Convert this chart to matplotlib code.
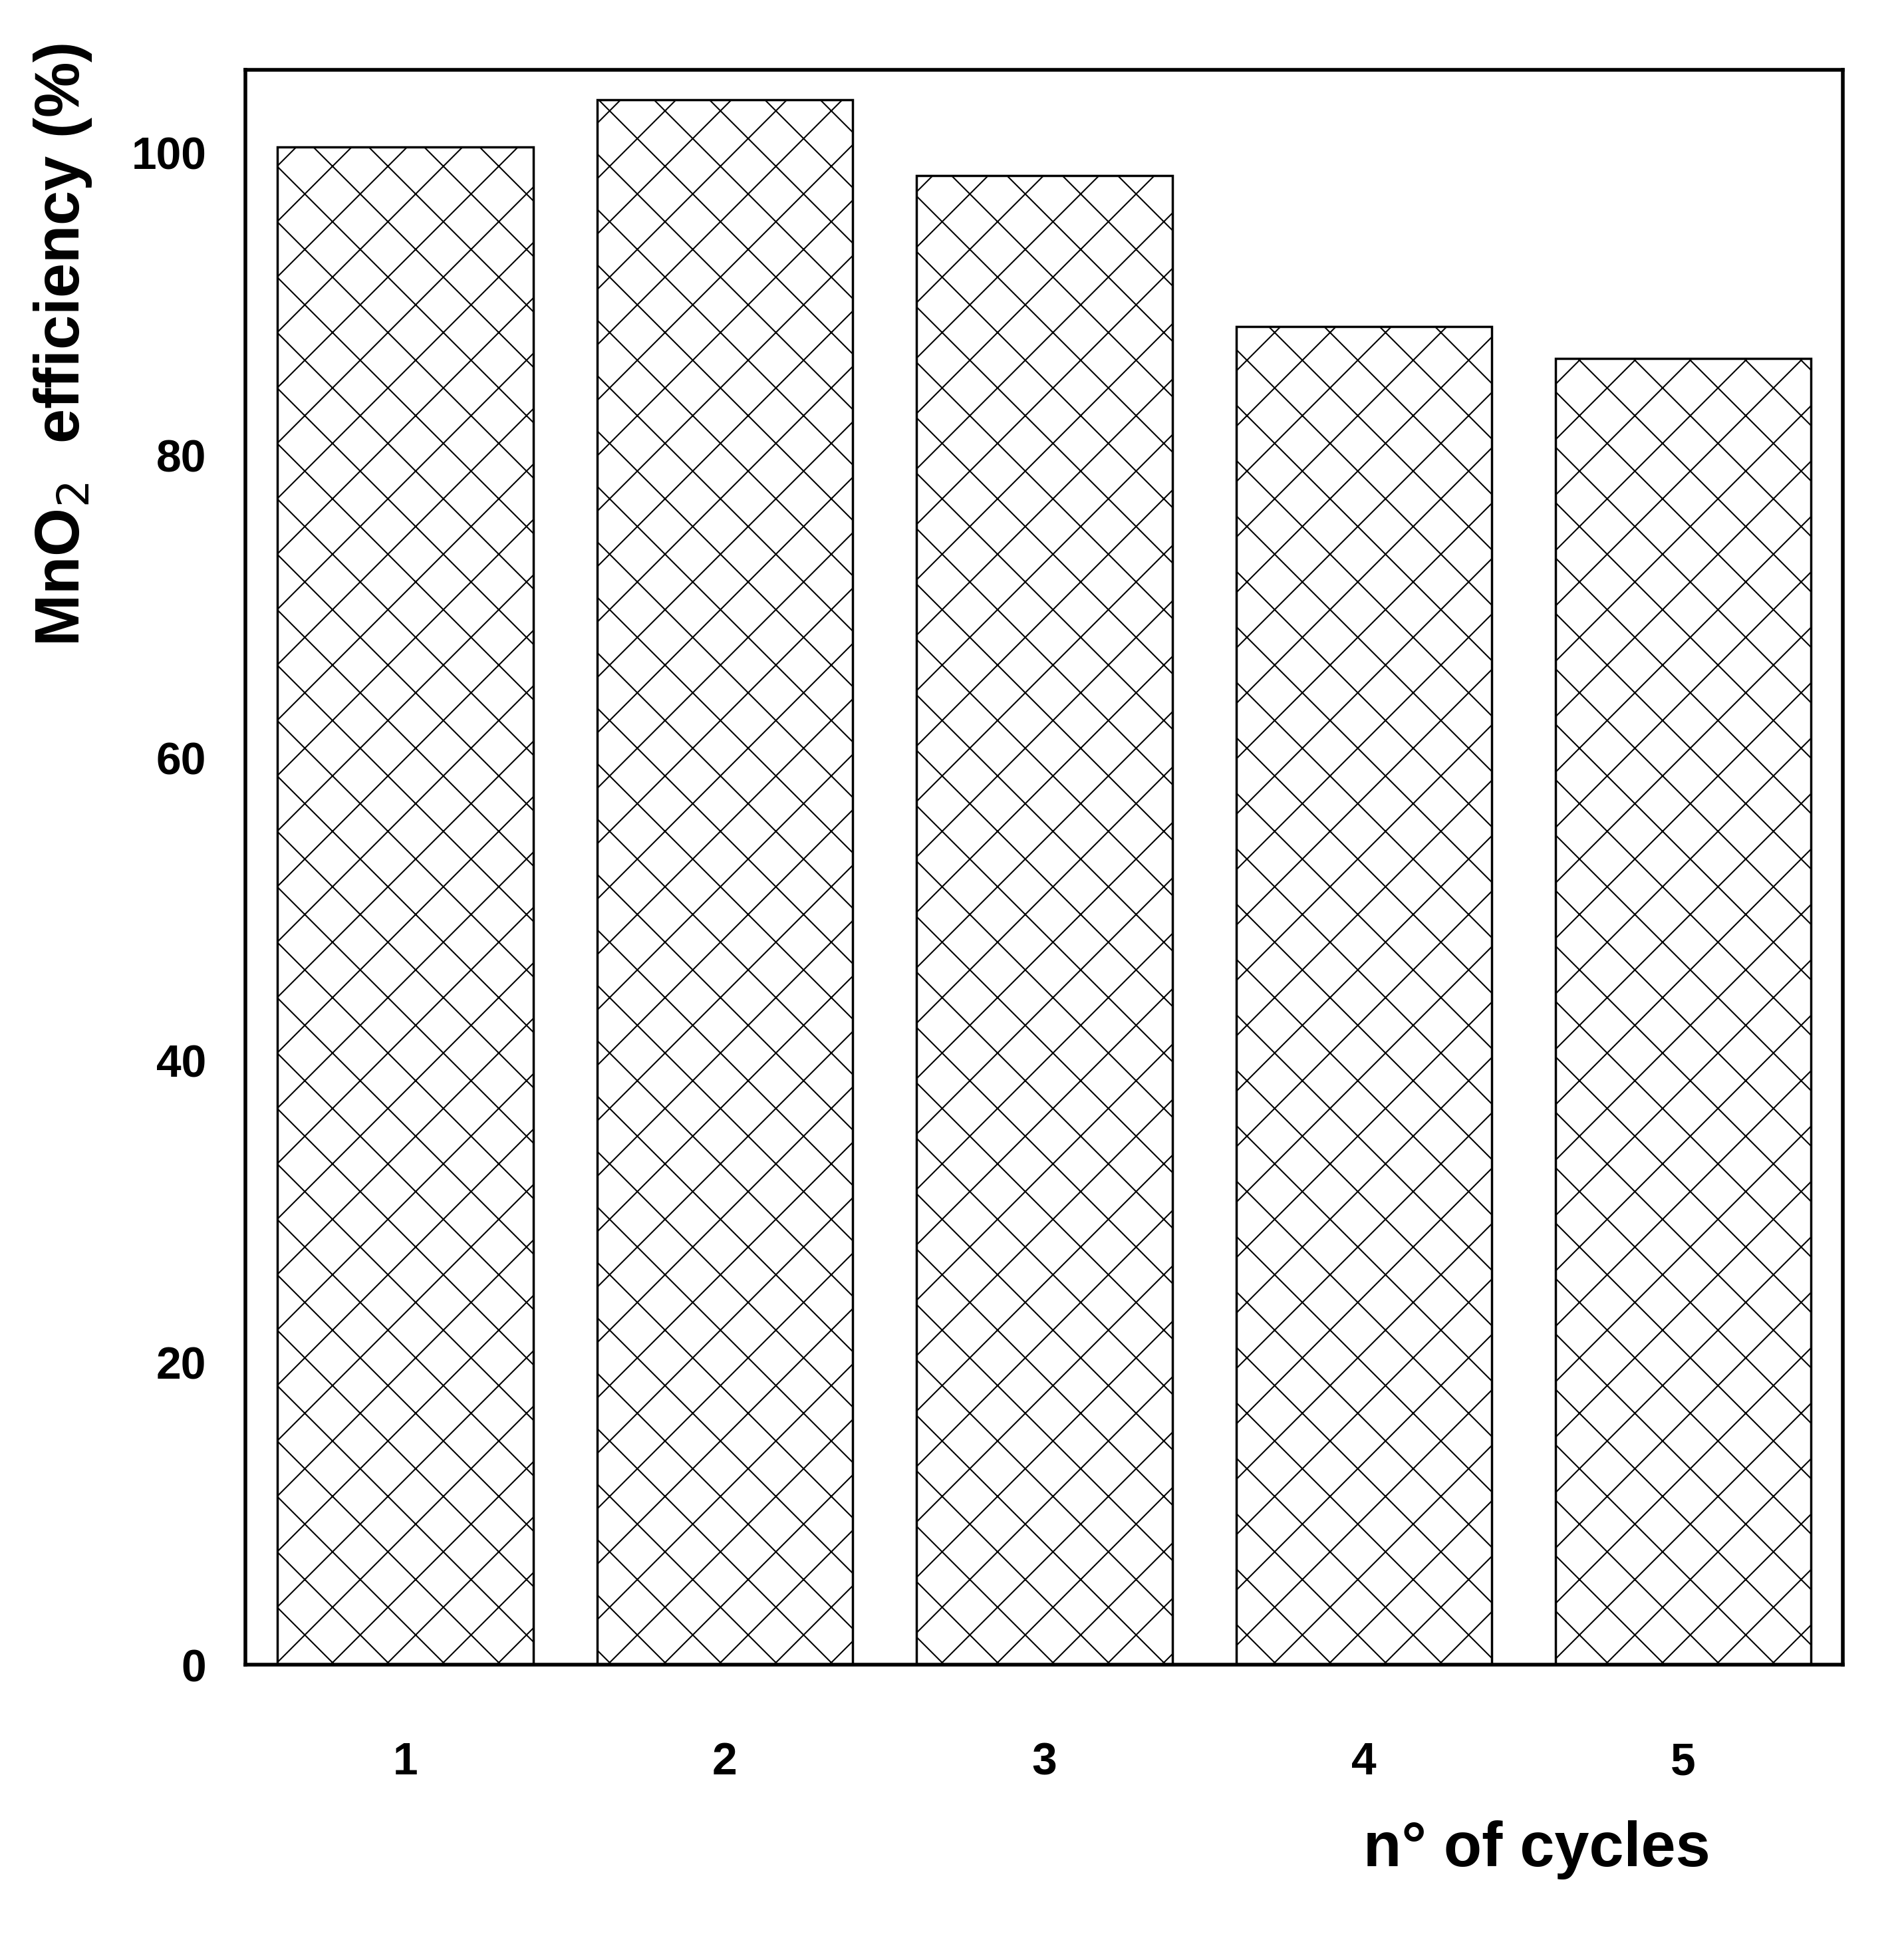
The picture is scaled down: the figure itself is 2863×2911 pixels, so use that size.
import matplotlib
matplotlib.use("Agg")
import matplotlib.pyplot as plt

cycles = ["1", "2", "3", "4", "5"]
efficiency = [100.4, 103.5, 98.5, 88.5, 86.4]

plt.rcParams['font.family'] = ['Liberation Sans', 'DejaVu Sans']
plt.rcParams['hatch.linewidth'] = 0.6
plt.rcParams['hatch.color'] = '#555555'

DPI = 250
fig = plt.figure(figsize=(2863 / DPI, 2911 / DPI), dpi=DPI)
ax = fig.add_axes([0.129, 0.140, 0.839, 0.824])
x = list(range(1, len(cycles) + 1))
ax.bar(x, efficiency, width=0.8, facecolor='white', edgecolor='black',
       linewidth=1.0, hatch='x')
ax.set_xlim(0.5, 5.5)
ax.set_ylim(0, 105.5)
ax.set_xticks(x)
ax.set_xticklabels(cycles)
ax.set_yticks([0, 20, 40, 60, 80, 100])
ax.tick_params(length=0, labelsize=19.5)
ax.tick_params(axis='x', pad=33)
ax.tick_params(axis='y', pad=17)
for lab in ax.get_xticklabels() + ax.get_yticklabels():
    lab.set_fontweight('bold')
for s in ax.spines.values():
    s.set_linewidth(1.6)
fig.text(0.807, 0.0445, "n° of cycles", fontsize=27, fontweight='bold', ha='center', va='center')
fig.text(0.033, 0.822, "MnO$_2$  efficiency (%)", fontsize=27, fontweight='bold',
         rotation=90, ha='center', va='center')
fig.savefig("out.png", dpi=DPI)
